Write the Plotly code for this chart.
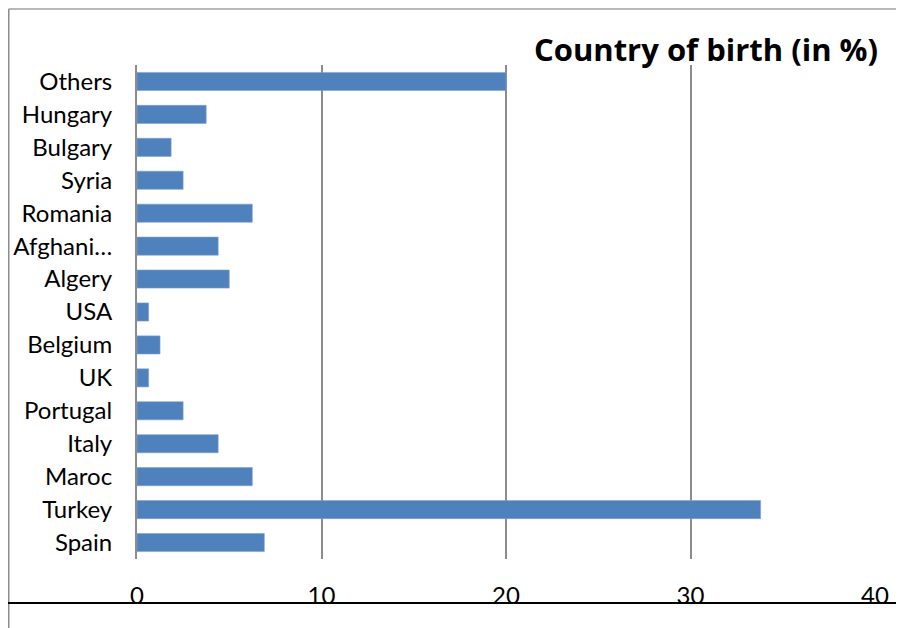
import plotly.graph_objects as go

countries = ["Spain", "Turkey", "Maroc", "Italy", "Portugal", "UK", "Belgium", "USA",
             "Algery", "Afghani…", "Romania", "Syria", "Bulgary", "Hungary", "Others"]
percent = [6.9, 33.8, 6.25, 4.4, 2.5, 0.63, 1.25, 0.63,
           5.0, 4.4, 6.25, 2.5, 1.85, 3.75, 20.0]
x_ticks = [0, 10, 20, 30, 40]

# the page has an 8px body margin, so the figure is laid out 8px smaller
W, H = 896, 620
L, R, T, B = 129, 29, 57, 69
pw, ph = W - L - R, H - T - B


def px_x(fx):
    return (fx - L) / pw


def px_y(fy):
    return (H - B - fy) / ph


fig = go.Figure()

fig.add_trace(go.Bar(
    x=percent,
    y=countries,
    orientation="h",
    width=0.55,
    marker=dict(color="#4F81BD", line=dict(color="#7EA1D0", width=0.6)),
))

fig.update_layout(
    width=W,
    height=H,
    margin=dict(l=L, r=R, t=T, b=B, autoexpand=False),
    paper_bgcolor="white",
    plot_bgcolor="white",
    font=dict(family="Lato", size=24, color="black"),
    showlegend=False,
    title=dict(
        text="<b>Country of birth (in %)</b>",
        font=dict(family="Open Sans", size=31, color="black"),
        xref="container", yref="container",
        x=870 / W, xanchor="right",
        y=1 - 42 / H, yanchor="middle",
    ),
    shapes=[
        # left frame
        dict(type="line", xref="paper", yref="paper", x0=px_x(0.5), x1=px_x(0.5),
             y0=px_y(H), y1=px_y(1), line=dict(color="#8c8c8c", width=2)),
        # top frame
        dict(type="line", xref="paper", yref="paper", x0=px_x(0.5), x1=px_x(W),
             y0=px_y(1), y1=px_y(1), line=dict(color="#a0a0a0", width=1.5)),
        # bottom black rule
        dict(type="line", xref="paper", yref="paper", x0=px_x(0), x1=px_x(W),
             y0=px_y(595), y1=px_y(595), line=dict(color="black", width=2)),
    ],
)

fig.update_xaxes(
    range=[0, 40],
    tickvals=x_ticks,
    showgrid=True,
    gridcolor="#8c8c8c",
    gridwidth=1.8,
    zeroline=False,
    showline=False,
    ticks="",
    automargin=False,
    ticklabelstandoff=20,
    tickfont=dict(family="Lato", size=24, color="black"),
)

fig.update_yaxes(
    showline=True,
    linecolor="#8c8c8c",
    linewidth=2,
    ticks="",
    automargin=False,
    ticklabelstandoff=18,
    tickfont=dict(family="Lato", size=24, color="black"),
    range=[-0.5, 14.5],
)

fig.write_html("out.html")
